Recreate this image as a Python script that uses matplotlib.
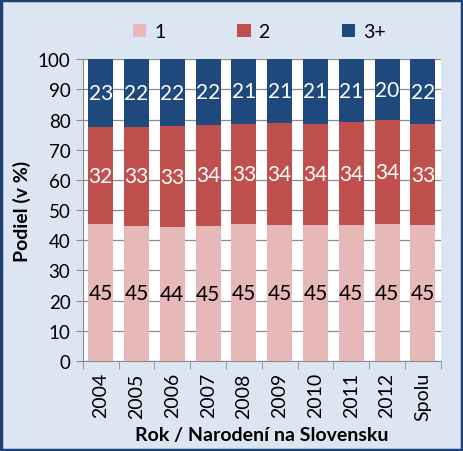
import matplotlib

matplotlib.use("Agg")
import matplotlib.pyplot as plt
import numpy as np
from matplotlib.patches import Rectangle

categories = ["2004", "2005", "2006", "2007", "2008", "2009", "2010", "2011", "2012", "Spolu"]
share_1 = [45.4, 44.8, 44.4, 44.7, 45.4, 45.0, 45.0, 45.0, 45.4, 45.0]
share_2 = [32.0, 32.8, 33.4, 33.6, 33.2, 33.8, 33.6, 34.1, 34.4, 33.4]
share_3 = [22.6, 22.4, 22.2, 21.7, 21.4, 21.2, 21.4, 20.9, 20.2, 21.6]
series_names = ["1", "2", "3+"]

PINK = "#E6B9B8"
RED = "#C0504D"
BLUE = "#1F497D"
BG = "#DCE6F2"
FRAME = "#1F3F77"
GRID = "#8C8C8C"

plt.rcParams["font.family"] = ["Lato", "DejaVu Sans"]

fig = plt.figure(figsize=(4.63, 4.52), dpi=100, facecolor=BG)
fig.patches.append(Rectangle((0.002, 0.002), 0.996, 0.996, transform=fig.transFigure,
                             fill=False, edgecolor=FRAME, linewidth=2.5))
ax = fig.add_axes([0.179, 0.199, 0.773, 0.668])
ax.set_facecolor("white")

x = np.arange(len(categories))
w = 0.70
s1 = np.array(share_1)
s2 = np.array(share_2)
s3 = np.array(share_3)
b1 = ax.bar(x, s1, w, color=PINK, label=series_names[0], zorder=2)
b2 = ax.bar(x, s2, w, bottom=s1, color=RED, label=series_names[1], zorder=2)
b3 = ax.bar(x, s3, w, bottom=s1 + s2, color=BLUE, label=series_names[2], zorder=2)

for bars, vals, base, col in ((b1, s1, 0, "black"), (b2, s2, s1, "white"), (b3, s3, s1 + s2, "white")):
    for xi, v, b in zip(x, vals, np.broadcast_to(base, vals.shape)):
        ax.text(xi, b + v / 2, f"{v:.0f}", ha="center", va="center", fontsize=15, color=col, zorder=3)

ax.set_xlim(-0.5, len(categories) - 0.5)
ax.set_ylim(0, 100)
ax.set_yticks(range(0, 101, 10))
ax.tick_params(axis="y", labelsize=13.5, length=5, color=GRID, direction="out", pad=4)
ax.set_xticks(x)
ax.set_xticklabels(categories, rotation=90, fontsize=14)
ax.set_xticks(np.arange(-0.5, len(categories), 1), minor=True)
ax.tick_params(axis="x", which="major", length=0, pad=8)
ax.tick_params(axis="x", which="minor", length=6, color=GRID)
ax.grid(axis="y", color=GRID, linewidth=0.9, zorder=1)
ax.set_axisbelow(True)
for s in ("top", "right"):
    ax.spines[s].set_visible(False)
for s in ("left", "bottom"):
    ax.spines[s].set_color(GRID)

ax.set_ylabel("Podiel (v %)", fontsize=14, fontweight="bold", labelpad=5)
ax.set_xlabel("Rok / Narodení na Slovensku", fontsize=14, fontweight="bold", labelpad=4)

fig.legend(handles=[b1, b2, b3], labels=series_names, loc="upper center", ncol=3,
           bbox_to_anchor=(0.56, 0.985), frameon=False, fontsize=14,
           handlelength=0.7, handleheight=0.7, handletextpad=0.4, columnspacing=3.7)

fig.savefig("out.png", dpi=100, facecolor=BG)
